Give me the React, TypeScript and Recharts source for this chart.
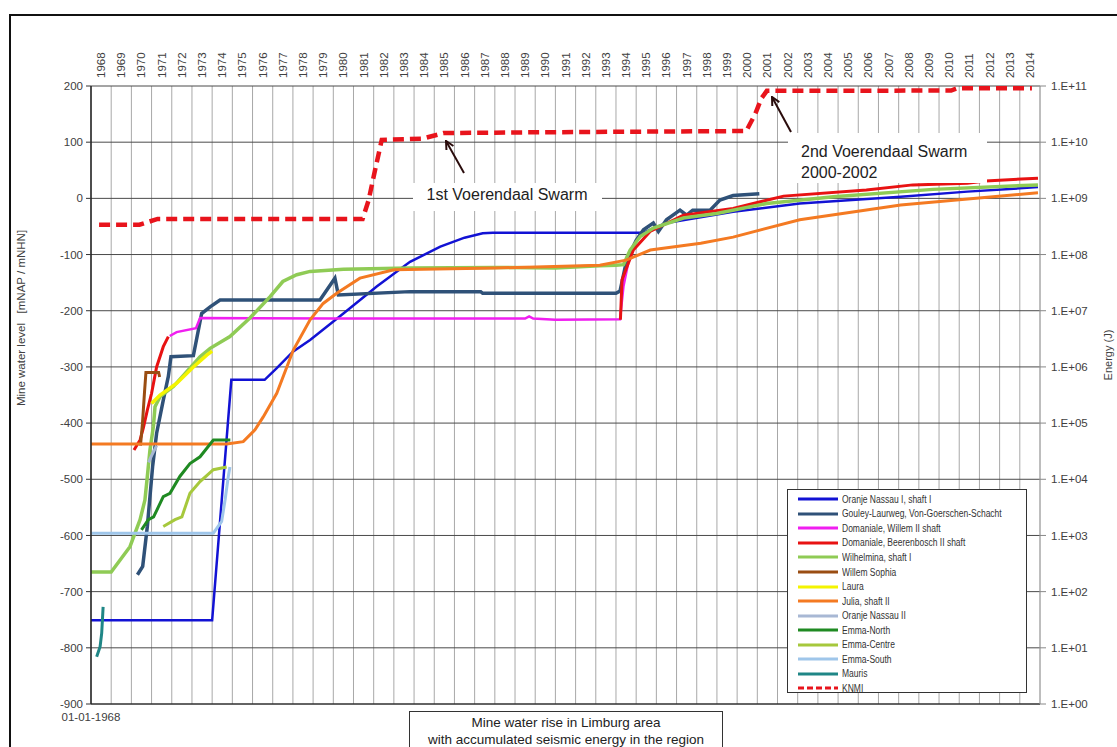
import { CartesianGrid, Line, LineChart, XAxis, YAxis } from "recharts";

type Pt = [number, number | null];

// mine water levels, [year, mNAP]
const oranjeNassauI: Pt[] = [
  [1968.0, -751], [1974.0, -751], [1974.95, -323], [1976.6, -323], [1977.2, -302],
  [1978.0, -273], [1978.85, -252], [1980.5, -205], [1982.15, -157], [1983.8, -113],
  [1985.3, -86], [1986.5, -70], [1987.4, -62], [1987.9, -61], [1995.35, -61],
  [1996.5, -44], [1999.8, -24], [2003.1, -9], [2008.1, 3], [2011.4, 12], [2014.9, 20],
];
const gouley: Pt[] = [
  [1970.3, -670], [1970.56, -655], [1970.79, -584], [1971.05, -478], [1971.25, -418],
  [1971.58, -359], [1971.83, -317], [1971.96, -282], [1973.07, -280], [1973.48, -205],
  [1973.9, -193], [1974.39, -181], [1979.34, -181], [1980.08, -142], [1980.25, -172],
  [1983.8, -166], [1987.3, -166], [1987.4, -169], [1994.0, -169], [1994.2, -165],
  [1994.53, -110], [1995.0, -75], [1995.36, -56], [1995.85, -44], [1996.1, -59],
  [1996.5, -38], [1997.17, -21], [1997.5, -30], [1997.8, -21], [1998.66, -21],
  [1999.15, -3], [1999.8, 5], [2001.1, 8],
];
const willemII: Pt[] = [
  [1971.9, -245], [1972.24, -238], [1973.2, -231], [1973.4, -213], [1980.0, -214],
  [1989.5, -214], [1989.7, -210], [1989.9, -214], [1991.0, -216], [1994.2, -215],
  [1994.37, -157], [1994.6, -116],
];
const beerenboschII: Pt[] = [
  [1970.13, -448], [1970.43, -430], [1970.59, -409], [1970.79, -377], [1971.0, -347],
  [1971.25, -300], [1971.58, -264], [1971.83, -246], [1983.0, null], [1994.22, -216],
  [1994.3, -145], [1994.86, -92], [1995.69, -59], [1997.34, -30], [1999.8, -18],
  [2002.3, 4], [2006.4, 15], [2008.7, 24], [2011.4, 27], [2012.3, 31], [2014.9, 36],
];
const wilhelmina: Pt[] = [
  [1968.0, -665], [1969.0, -665], [1969.93, -620], [1970.43, -572], [1970.67, -537],
  [1970.79, -495], [1970.92, -448], [1971.09, -406], [1971.17, -371], [1971.42, -353],
  [1972.08, -335], [1973.4, -282], [1973.9, -267], [1974.88, -246], [1975.87, -213],
  [1976.87, -175], [1977.5, -148], [1978.19, -136], [1978.85, -130], [1980.5, -126],
  [1983.8, -124], [1988.0, -123], [1991.0, -124], [1993.2, -120], [1994.0, -119],
  [1994.37, -118], [1994.7, -92], [1995.2, -68], [1995.85, -53], [1997.34, -35],
  [1998.99, -27], [2001.46, -9], [2004.77, 3], [2009.7, 16], [2014.9, 24],
];
const willemSophia: Pt[] = [
  [1970.45, -440], [1970.55, -400], [1970.65, -345], [1970.72, -310], [1971.35, -310],
  [1971.4, -318],
];
const laura: Pt[] = [
  [1971.0, -365], [1971.42, -350], [1972.25, -329], [1973.07, -300], [1973.73, -279],
  [1974.0, -272],
];
const juliaII: Pt[] = [
  [1968.0, -437], [1974.72, -437], [1975.54, -433], [1976.12, -412], [1976.53, -389],
  [1977.2, -347], [1978.02, -270], [1978.85, -216], [1979.5, -187], [1980.17, -169],
  [1981.32, -142], [1983.0, -127], [1988.0, -124], [1993.2, -119], [1994.5, -110],
  [1995.7, -92], [1998.2, -80], [1999.8, -69], [2003.1, -38], [2008.1, -12], [2014.9, 10],
];
const oranjeNassauII: Pt[] = [[1970.85, -470], [1971.0, -458], [1971.25, -440]];
const emmaNorth: Pt[] = [
  [1970.5, -590], [1970.84, -572], [1971.1, -567], [1971.58, -531], [1971.91, -525],
  [1972.4, -495], [1972.9, -472], [1973.4, -460], [1974.06, -430], [1974.9, -430],
];
const emmaCentre: Pt[] = [
  [1971.58, -584], [1972.16, -572], [1972.5, -567], [1972.9, -525], [1973.4, -504],
  [1974.06, -483], [1974.72, -478],
];
const emmaSouth: Pt[] = [
  [1968.0, -596], [1974.06, -596], [1974.47, -575], [1974.64, -537], [1974.8, -495],
  [1974.88, -478],
];
const mauris: Pt[] = [[1968.28, -816], [1968.45, -798], [1968.53, -774], [1968.6, -727]];

// accumulated seismic energy (J)
const knmi: Pt[] = [
  [1968.4, 3.4e8], [1970.4, 3.4e8], [1971.3, 4.3e8], [1981.45, 4.3e8], [1981.75, 9.3e8],
  [1982.1, 3.6e9], [1982.4, 1.1e10], [1984.4, 1.15e10], [1985.45, 1.45e10],
  [1990.0, 1.5e10], [2000.45, 1.58e10], [2000.9, 3.2e10], [2001.2, 6.0e10],
  [2001.47, 8.2e10], [2010.6, 8.3e10], [2010.9, 9.1e10], [2014.6, 9.1e10],
];

const gridYears = [
  1968, 1969, 1970, 1971, 1972, 1973, 1974, 1975, 1976, 1977, 1978, 1979, 1980, 1981, 1982,
  1983, 1984, 1985, 1986, 1987, 1988, 1989, 1990, 1991, 1992, 1993, 1994, 1995, 1996, 1997,
  1998, 1999, 2000, 2001, 2002, 2003, 2004, 2005, 2006, 2007, 2008, 2009, 2010, 2011, 2012,
  2013, 2014, 2015,
];
const labelYears = gridYears.slice(0, -1).map((y) => y + 0.5);
const levelTicks = [-900, -800, -700, -600, -500, -400, -300, -200, -100, 0, 100, 200];
const energyTicks = [1, 1e1, 1e2, 1e3, 1e4, 1e5, 1e6, 1e7, 1e8, 1e9, 1e10, 1e11];

const SERIES = [
  { name: "Oranje Nassau I, shaft I", color: "#1212d4", width: 2.5, points: oranjeNassauI },
  { name: "Gouley-Laurweg, Von-Goerschen-Schacht", color: "#2f5178", width: 3.5, points: gouley },
  { name: "Domaniale, Willem II shaft", color: "#f01ef0", width: 2.5, points: willemII },
  { name: "Domaniale, Beerenbosch II shaft", color: "#e81212", width: 3, points: beerenboschII },
  { name: "Wilhelmina, shaft I", color: "#8fcb55", width: 3.5, points: wilhelmina },
  { name: "Willem Sophia", color: "#9a4d12", width: 3, points: willemSophia },
  { name: "Laura", color: "#f4f400", width: 3.5, points: laura },
  { name: "Julia, shaft II", color: "#f47a22", width: 3, points: juliaII },
  { name: "Oranje Nassau II", color: "#a8b8d4", width: 3, points: oranjeNassauII },
  { name: "Emma-North", color: "#1f8a22", width: 3, points: emmaNorth },
  { name: "Emma-Centre", color: "#a6c83c", width: 3, points: emmaCentre },
  { name: "Emma-South", color: "#9fc6ea", width: 3, points: emmaSouth },
  { name: "Mauris", color: "#1f8686", width: 3, points: mauris },
];
const KNMI_COLOR = "#e8141c";

const toRows = (pts: Pt[]) => pts.map(([x, y]) => ({ x, y }));
const fmtEnergy = (v: number) =>
  `1.E+${String(Math.round(Math.log10(v))).padStart(2, "0")}`;

const FONT = "'Liberation Sans', Arial, sans-serif";
const TICK_FILL = "#404040";

function YearTick({ x, y, payload }: any) {
  return (
    <text
      transform={`translate(${x},${y}) rotate(-90)`}
      textAnchor="start"
      dominantBaseline="central"
      fontSize={11.5}
      fill={TICK_FILL}
    >
      {Math.floor(payload.value)}
    </text>
  );
}

function ChartLegend() {
  return (
    <div
      style={{
        position: "absolute",
        left: 787,
        top: 489,
        width: 240,
        height: 204,
        border: "1px solid #333",
        background: "#fff",
        boxSizing: "border-box",
        paddingTop: 2,
      }}
    >
      {[...SERIES, { name: "KNMI", color: KNMI_COLOR, width: 3, points: knmi }].map((s) => (
        <div key={s.name} style={{ display: "flex", alignItems: "center", height: 14.56 }}>
          <svg width={50} height={8} style={{ flex: "none" }}>
            <line
              x1={10}
              x2={50}
              y1={4}
              y2={4}
              stroke={s.color}
              strokeWidth={3}
              strokeDasharray={s.name === "KNMI" ? "6 3" : undefined}
            />
          </svg>
          <span
            style={{
              display: "inline-block",
              fontSize: 10,
              color: "#333",
              marginLeft: 4,
              whiteSpace: "nowrap",
              transform: "scaleX(0.85)",
              transformOrigin: "left center",
            }}
          >
            {s.name}
          </span>
        </div>
      ))}
    </div>
  );
}

export default function App() {
  return (
    <div
      style={{
        position: "absolute",
        left: 0,
        top: 0,
        width: 1117,
        height: 747,
        overflow: "hidden",
        background: "#fff",
        fontFamily: FONT,
      }}
    >
      <div
        style={{
          position: "absolute",
          left: 9,
          top: 14,
          width: 1200,
          height: 800,
          border: "2px solid #111",
        }}
      />
      <LineChart
        width={1117}
        height={747}
        margin={{ top: 46, right: 17, bottom: 13, left: 31 }}
        style={{ position: "absolute", left: 0, top: 0 }}
      >
        <CartesianGrid
          xAxisId="bottom"
          yAxisId="left"
          horizontal={false}
          stroke="#a8a8a8"
        />
        <CartesianGrid
          xAxisId="bottom"
          yAxisId="left"
          vertical={false}
          stroke="#4a4a4a"
        />
        <XAxis
          xAxisId="bottom"
          dataKey="x"
          type="number"
          domain={[1968, 2015]}
          allowDataOverflow
          ticks={gridYears}
          interval={0}
          tickFormatter={(v) => (v === 1968 ? "01-01-1968" : "")}
          tick={{ fill: TICK_FILL, fontSize: 11.5 }}
          tickLine={false}
          tickSize={0}
          tickMargin={9}
          axisLine={{ stroke: "#222" }}
          height={30}
        />
        <XAxis
          xAxisId="top"
          orientation="top"
          dataKey="x"
          type="number"
          domain={[1968, 2015]}
          allowDataOverflow
          ticks={labelYears}
          interval={0}
          tick={YearTick}
          tickLine={false}
          tickSize={0}
          tickMargin={8}
          axisLine={false}
          height={40}
        />
        <YAxis
          yAxisId="left"
          type="number"
          domain={[-900, 200]}
          allowDataOverflow
          ticks={levelTicks}
          interval={0}
          tick={{ fill: TICK_FILL, fontSize: 11.5 }}
          tickSize={5}
          tickMargin={3}
          tickLine={{ stroke: "#333" }}
          axisLine={{ stroke: "#222", strokeWidth: 1.5 }}
          width={60}
        />
        <YAxis
          yAxisId="right"
          orientation="right"
          type="number"
          scale="log"
          domain={[1, 1e11]}
          allowDataOverflow
          ticks={energyTicks}
          interval={0}
          tickFormatter={fmtEnergy}
          tick={{ fill: TICK_FILL, fontSize: 11.5 }}
          tickSize={6}
          tickMargin={5}
          tickLine={{ stroke: "#888" }}
          axisLine={{ stroke: "#a8a8a8" }}
          width={60}
        />
        {SERIES.map((s) => (
          <Line
            key={s.name}
            name={s.name}
            data={toRows(s.points)}
            dataKey="y"
            xAxisId="bottom"
            yAxisId="left"
            type="linear"
            stroke={s.color}
            strokeWidth={s.width}
            dot={false}
            isAnimationActive={false}
          />
        ))}
        <Line
          name="KNMI"
          data={toRows(knmi)}
          dataKey="y"
          xAxisId="top"
          yAxisId="right"
          type="linear"
          stroke={KNMI_COLOR}
          strokeWidth={4.5}
          strokeDasharray="11 6"
          dot={false}
          isAnimationActive={false}
        />
      </LineChart>

      <svg
        width={1117}
        height={747}
        style={{ position: "absolute", left: 0, top: 0, pointerEvents: "none" }}
      >
        <defs>
          <marker
            id="arrow"
            viewBox="0 0 10 10"
            refX={9}
            refY={5}
            markerWidth={5}
            markerHeight={5}
            orient="auto"
          >
            <path d="M1,1 L9,5 L1,9" fill="none" stroke="#2a0c0c" strokeWidth={2} />
          </marker>
        </defs>
        <text
          transform="translate(25,318) rotate(-90)"
          textAnchor="middle"
          fontSize={11.5}
          fill="#404040"
          style={{ whiteSpace: "pre" }}
        >
          {"Mine water level   [mNAP / mNHN]"}
        </text>
        <text
          transform="translate(1112,355) rotate(-90)"
          textAnchor="middle"
          fontSize={11}
          fill="#404040"
        >
          Energy (J)
        </text>

        <rect x={413} y={183} width={189} height={28} fill="#fff" />
        <text x={507} y={200} textAnchor="middle" fontSize={16} fill="#222">
          1st Voerendaal Swarm
        </text>
        <line x1={464} y1={173} x2={446} y2={141} stroke="#2a0c0c" strokeWidth={2} markerEnd="url(#arrow)" />

        <rect x={788} y={133} width={199} height={50} fill="#fff" />
        <text x={801} y={157} fontSize={16} fill="#222">
          2nd Voerendaal Swarm
        </text>
        <text x={801} y={178} fontSize={16} fill="#222">
          2000-2002
        </text>
        <line x1={791} y1={132} x2={772} y2={97} stroke="#2a0c0c" strokeWidth={2} markerEnd="url(#arrow)" />
      </svg>

      <ChartLegend />

      <div
        style={{
          position: "absolute",
          left: 409,
          top: 711,
          width: 314,
          height: 60,
          border: "1px solid #333",
          background: "#fff",
          boxSizing: "border-box",
          textAlign: "center",
          fontSize: 13.5,
          lineHeight: "17px",
          color: "#222",
          paddingTop: 2,
        }}
      >
        Mine water rise in Limburg area
        <br />
        with accumulated seismic energy in the region
      </div>
    </div>
  );
}
